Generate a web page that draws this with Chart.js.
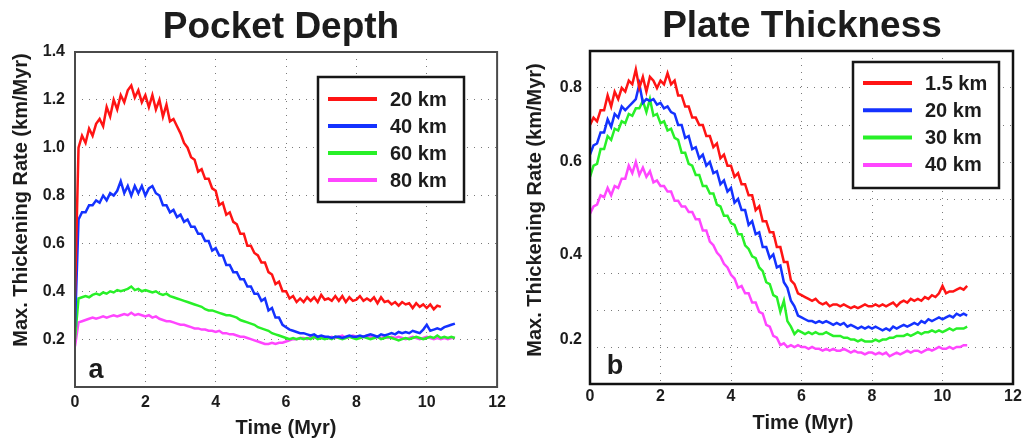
<!DOCTYPE html>
<html>
<head>
<meta charset="utf-8">
<script src="https://cdn.jsdelivr.net/npm/chart.js@4/dist/chart.umd.min.js"></script>
<style>
  body { margin: 0; background: #fff; }
  canvas { position: absolute; top: 0; }
  #depth { left: 0; }
  #plate { left: 512px; }
</style>
</head>
<body>
<canvas id="depth" width="512" height="441"></canvas>
<canvas id="plate" width="513" height="441"></canvas>
<script>
// time axis shared by both panels (Myr)
const timeMyr = [
  0,0.1,0.2,0.3,0.4,0.5,0.6,0.7,0.8,0.9,
  1,1.1,1.2,1.3,1.4,1.5,1.6,1.7,1.8,1.9,
  2,2.1,2.2,2.3,2.4,2.5,2.6,2.7,2.8,2.9,
  3,3.1,3.2,3.3,3.4,3.5,3.6,3.7,3.8,3.9,
  4,4.1,4.2,4.3,4.4,4.5,4.6,4.7,4.8,4.9,
  5,5.1,5.2,5.3,5.4,5.5,5.6,5.7,5.8,5.9,
  6,6.1,6.2,6.3,6.4,6.5,6.6,6.7,6.8,6.9,
  7,7.1,7.2,7.3,7.4,7.5,7.6,7.7,7.8,7.9,
  8,8.1,8.2,8.3,8.4,8.5,8.6,8.7,8.8,8.9,
  9,9.1,9.2,9.3,9.4,9.5,9.6,9.7,9.8,9.9,
  10,10.1,10.2,10.3,10.4,10.5,10.6,10.7,10.8
];

// panel a: pocket depth
const depthLabels = ['20 km', '40 km', '60 km', '80 km'];
const depth20 = [
  0.38,1.00,1.05,1.02,1.08,1.05,1.10,1.12,1.09,1.17,
  1.13,1.20,1.16,1.22,1.19,1.24,1.26,1.21,1.24,1.19,
  1.22,1.17,1.22,1.16,1.20,1.13,1.18,1.11,1.12,1.09,
  1.06,1.02,1.00,0.96,0.95,0.90,0.91,0.87,0.87,0.83,
  0.82,0.76,0.77,0.72,0.73,0.69,0.68,0.64,0.64,0.59,
  0.59,0.56,0.55,0.52,0.52,0.48,0.47,0.43,0.44,0.40,
  0.40,0.37,0.38,0.355,0.37,0.355,0.375,0.36,0.375,0.355,
  0.385,0.365,0.37,0.36,0.38,0.36,0.38,0.355,0.375,0.36,
  0.365,0.38,0.36,0.37,0.36,0.375,0.35,0.375,0.355,0.36,
  0.345,0.355,0.34,0.355,0.345,0.35,0.33,0.35,0.335,0.345,
  0.33,0.345,0.325,0.34,0.335,null,null,null,null
];
const depth40 = [
  0.25,0.70,0.73,0.73,0.76,0.76,0.78,0.77,0.80,0.78,
  0.81,0.80,0.82,0.86,0.81,0.84,0.80,0.84,0.81,0.84,
  0.80,0.83,0.84,0.81,0.80,0.76,0.76,0.73,0.74,0.71,
  0.72,0.69,0.70,0.67,0.67,0.64,0.64,0.61,0.61,0.57,
  0.58,0.55,0.55,0.51,0.51,0.48,0.48,0.45,0.45,0.42,
  0.42,0.39,0.39,0.36,0.37,0.32,0.33,0.29,0.29,0.26,
  0.25,0.24,0.235,0.23,0.225,0.225,0.22,0.215,0.22,0.21,
  0.215,0.21,0.21,0.205,0.21,0.21,0.205,0.21,0.215,0.21,
  0.21,0.215,0.21,0.215,0.22,0.215,0.21,0.22,0.215,0.22,
  0.225,0.22,0.23,0.225,0.23,0.225,0.235,0.23,0.225,0.24,
  0.26,0.235,0.24,0.245,0.24,0.25,0.255,0.26,0.265
];
const depth60 = [
  0.20,0.37,0.375,0.38,0.375,0.385,0.39,0.385,0.395,0.39,
  0.40,0.395,0.405,0.40,0.405,0.41,0.42,0.405,0.41,0.40,
  0.405,0.40,0.395,0.40,0.39,0.385,0.39,0.38,0.375,0.37,
  0.365,0.36,0.355,0.35,0.345,0.34,0.335,0.325,0.32,0.32,
  0.315,0.31,0.305,0.30,0.30,0.295,0.29,0.28,0.275,0.27,
  0.265,0.26,0.25,0.245,0.24,0.235,0.225,0.22,0.215,0.21,
  0.205,0.20,0.205,0.20,0.205,0.20,0.205,0.20,0.21,0.20,
  0.205,0.20,0.205,0.20,0.21,0.205,0.20,0.205,0.21,0.205,
  0.20,0.205,0.21,0.205,0.20,0.205,0.21,0.20,0.205,0.21,
  0.205,0.20,0.195,0.20,0.205,0.20,0.205,0.21,0.205,0.20,
  0.205,0.21,0.205,0.215,0.205,0.21,0.205,0.21,0.205
];
const depth80 = [
  0.17,0.27,0.275,0.28,0.285,0.29,0.285,0.29,0.295,0.29,
  0.295,0.30,0.295,0.30,0.305,0.30,0.31,0.30,0.305,0.30,
  0.295,0.30,0.29,0.295,0.285,0.28,0.275,0.275,0.27,0.265,
  0.26,0.26,0.255,0.25,0.245,0.245,0.24,0.24,0.235,0.235,
  0.23,0.235,0.225,0.225,0.22,0.22,0.215,0.21,0.21,0.205,
  0.20,0.195,0.19,0.185,0.18,0.18,0.185,0.18,0.185,0.185,
  0.19,0.195,0.20,0.20,0.205,0.205,0.20,0.21,0.205,0.21,
  0.205,0.21,0.205,0.21,0.205,0.21,0.215,0.205,0.21,0.215,
  0.21,0.205,0.21,0.215,0.21,0.205,0.21,0.205,0.21,0.205,
  0.21,0.205,0.21,0.205,0.20,0.205,0.21,0.205,0.20,0.205,
  0.21,0.205,0.20,0.205,0.20,0.205,0.20,0.205,0.205
];

// panel b: plate thickness
const plateLabels = ['1.5 km', '20 km', '30 km', '40 km'];
const plate15 = [
  0.70,0.72,0.71,0.74,0.74,0.78,0.75,0.79,0.77,0.80,
  0.79,0.82,0.81,0.85,0.80,0.83,0.79,0.83,0.82,0.80,
  0.82,0.81,0.84,0.81,0.82,0.78,0.78,0.75,0.75,0.72,
  0.72,0.70,0.70,0.67,0.67,0.64,0.65,0.61,0.62,0.59,
  0.59,0.56,0.57,0.54,0.54,0.51,0.51,0.47,0.48,0.44,
  0.44,0.41,0.41,0.37,0.37,0.33,0.33,0.28,0.27,0.245,
  0.24,0.235,0.23,0.225,0.23,0.22,0.215,0.22,0.21,0.215,
  0.215,0.21,0.215,0.21,0.205,0.21,0.205,0.21,0.215,0.21,
  0.21,0.215,0.21,0.215,0.21,0.215,0.22,0.21,0.22,0.225,
  0.22,0.23,0.225,0.23,0.225,0.235,0.23,0.24,0.235,0.245,
  0.265,0.245,0.25,0.25,0.255,0.26,0.255,0.265
];
const plate20 = [
  0.62,0.645,0.65,0.68,0.68,0.715,0.695,0.73,0.72,0.75,
  0.74,0.75,0.76,0.77,0.81,0.76,0.77,0.765,0.77,0.755,
  0.76,0.745,0.75,0.735,0.73,0.70,0.70,0.665,0.67,0.635,
  0.64,0.61,0.62,0.59,0.60,0.57,0.575,0.54,0.55,0.52,
  0.53,0.49,0.50,0.47,0.47,0.43,0.44,0.405,0.41,0.37,
  0.37,0.34,0.35,0.315,0.32,0.275,0.26,0.225,0.21,0.185,
  0.18,0.175,0.17,0.17,0.165,0.17,0.165,0.17,0.165,0.16,
  0.165,0.16,0.165,0.155,0.16,0.155,0.15,0.155,0.15,0.155,
  0.15,0.155,0.15,0.145,0.15,0.145,0.155,0.15,0.155,0.16,
  0.155,0.16,0.165,0.16,0.17,0.165,0.175,0.17,0.175,0.18,
  0.175,0.18,0.185,0.18,0.19,0.185,0.19,0.185
];
const plate30 = [
  0.56,0.59,0.595,0.635,0.635,0.67,0.66,0.69,0.685,0.71,
  0.705,0.73,0.725,0.745,0.745,0.765,0.735,0.77,0.725,0.73,
  0.705,0.71,0.685,0.69,0.665,0.66,0.625,0.625,0.595,0.59,
  0.565,0.565,0.535,0.535,0.515,0.515,0.485,0.48,0.455,0.455,
  0.435,0.43,0.405,0.405,0.375,0.365,0.345,0.34,0.315,0.305,
  0.275,0.27,0.24,0.235,0.195,0.225,0.17,0.155,0.135,0.145,
  0.14,0.135,0.14,0.135,0.14,0.135,0.135,0.14,0.135,0.13,
  0.13,0.13,0.125,0.125,0.12,0.12,0.115,0.12,0.115,0.115,
  0.115,0.12,0.115,0.12,0.12,0.125,0.125,0.13,0.13,0.13,
  0.135,0.13,0.135,0.14,0.135,0.14,0.14,0.145,0.14,0.145,
  0.14,0.145,0.15,0.145,0.15,0.15,0.15,0.155
];
const plate40 = [
  0.46,0.48,0.485,0.51,0.505,0.53,0.51,0.535,0.53,0.555,
  0.555,0.59,0.57,0.60,0.565,0.585,0.56,0.575,0.545,0.55,
  0.535,0.535,0.52,0.52,0.495,0.495,0.48,0.48,0.465,0.465,
  0.445,0.445,0.415,0.415,0.385,0.375,0.355,0.345,0.325,0.315,
  0.295,0.285,0.26,0.265,0.245,0.245,0.22,0.22,0.195,0.19,
  0.16,0.155,0.13,0.125,0.105,0.11,0.10,0.105,0.10,0.105,
  0.10,0.10,0.095,0.10,0.095,0.095,0.09,0.095,0.09,0.095,
  0.09,0.09,0.095,0.09,0.085,0.09,0.085,0.085,0.08,0.085,
  0.085,0.08,0.085,0.08,0.085,0.075,0.08,0.085,0.08,0.085,
  0.09,0.085,0.09,0.09,0.085,0.09,0.095,0.09,0.095,0.10,
  0.095,0.095,0.10,0.095,0.10,0.10,0.105,0.105
];

// panel b axis: dotted grid every 0.1, labels sit where the figure prints them
const plateGridVals = [0.1, 0.2, 0.3, 0.4, 0.5, 0.6, 0.7, 0.8];
const plateTickVals = [0.12, 0.35, 0.6, 0.8];
const plateTickText = ['0.2', '0.4', '0.6', '0.8'];

const lineColors = ['#ff1414', '#1432ff', '#28f028', '#ff46ff'];
const FONT = '"Liberation Sans", Arial, Helvetica, sans-serif';
const INK = '#1c1c1c';
const GRID = '#7a7a7a';

function points(series){
    return series.map((v, i) => ({x: timeMyr[i], y: v}));
}

function makeDatasets(labels, seriesList){
    return seriesList.map((s, i) => ({
        label: labels[i],
        data: points(s),
        borderColor: lineColors[i],
        backgroundColor: lineColors[i],
        borderWidth: 2.5,
        pointRadius: 0,
        tension: 0,
        spanGaps: false
    }));
}

// frame, titles, panel letter and boxed legend
const decor = {
    id: 'decor',
    afterDraw(chart, args, o){
        const ctx = chart.ctx;
        const a = chart.chartArea;
        ctx.save();
        ctx.strokeStyle = o.frameColor;
        ctx.lineWidth = o.frameWidth;
        ctx.strokeRect(a.left, a.top, a.right - a.left, a.bottom - a.top);

        ctx.fillStyle = INK;
        ctx.textAlign = 'center';
        ctx.textBaseline = 'alphabetic';
        ctx.font = 'bold 37px ' + FONT;
        ctx.fillText(o.title, o.titleX, o.titleBase);

        ctx.font = 'bold 20px ' + FONT;
        ctx.fillText('Time (Myr)', o.xTitleX, o.xTitleBase);

        ctx.save();
        ctx.translate(o.yTitleX, o.yTitleY);
        ctx.rotate(-Math.PI / 2);
        ctx.textBaseline = 'middle';
        ctx.fillText('Max. Thickening Rate (km/Myr)', 0, 0);
        ctx.restore();

        ctx.font = 'bold 27px ' + FONT;
        ctx.fillText(o.letter, o.letterX, o.letterBase);

        const L = o.legend;
        ctx.fillStyle = '#fff';
        ctx.fillRect(L.x, L.y, L.w, L.h);
        ctx.strokeStyle = '#161616';
        ctx.lineWidth = 2.5;
        ctx.strokeRect(L.x, L.y, L.w, L.h);
        ctx.textAlign = 'left';
        ctx.textBaseline = 'middle';
        ctx.font = 'bold 20px ' + FONT;
        chart.data.datasets.forEach((ds, i) => {
            const y = L.firstRow + i * L.rowGap;
            ctx.strokeStyle = ds.borderColor;
            ctx.lineWidth = 4;
            ctx.beginPath();
            ctx.moveTo(L.x + 10, y);
            ctx.lineTo(L.x + 59, y);
            ctx.stroke();
            ctx.fillStyle = INK;
            ctx.fillText(ds.label, L.x + 72, y + 1);
        });
        ctx.restore();
    }
};

const gridDots = {
    color: GRID,
    lineWidth: 1,
    drawTicks: false
};

function baseOptions(){
    return {
        responsive: false,
        animation: false,
        events: [],
        plugins: {
            legend: {display: false},
            tooltip: {enabled: false}
        }
    };
}

// panel a
const optsA = baseOptions();
optsA.layout = {padding: {left: 0, top: 52, right: 13, bottom: 0}};
optsA.scales = {
    x: {
        type: 'linear', min: 0, max: 12,
        border: {display: false, dash: [1, 6]},
        grid: gridDots,
        ticks: {stepSize: 2, padding: 6, color: INK, font: {family: FONT, size: 16, weight: 'bold'}},
        afterFit(s){ s.height = 54; }
    },
    y: {
        type: 'linear', min: 0, max: 1.4,
        border: {display: false, dash: [1, 6]},
        grid: gridDots,
        ticks: {
            stepSize: 0.2, padding: 10, color: INK,
            font: {family: FONT, size: 16, weight: 'bold'},
            callback: v => (Math.abs(v) < 1e-9 ? '' : v.toFixed(1))
        },
        afterFit(s){ s.width = 75; }
    }
};
optsA.plugins.decor = {
    frameColor: '#4a4a4a', frameWidth: 2,
    title: 'Pocket Depth', titleX: 281, titleBase: 38,
    xTitleX: 286, xTitleBase: 434,
    yTitleX: 21, yTitleY: 200,
    letter: 'a', letterX: 96, letterBase: 378,
    legend: {x: 318, y: 77, w: 146, h: 125, firstRow: 99, rowGap: 27}
};

new Chart(document.getElementById('depth'), {
    type: 'line',
    data: {datasets: makeDatasets(depthLabels, [depth20, depth40, depth60, depth80])},
    options: optsA,
    plugins: [decor]
});

// panel b
const optsB = baseOptions();
optsB.layout = {padding: {left: 0, top: 51, right: 12, bottom: 0}};
optsB.scales = {
    x: {
        type: 'linear', min: 0, max: 12,
        border: {display: false, dash: [1, 6]},
        grid: gridDots,
        ticks: {stepSize: 2, padding: 3, color: INK, font: {family: FONT, size: 16, weight: 'bold'}},
        afterFit(s){ s.height = 57; }
    },
    y: {
        type: 'linear', min: 0, max: 0.9,
        border: {display: false, dash: [1, 6]},
        grid: {
            drawTicks: false,
            lineWidth: 1,
            color: c => (c.tick && plateGridVals.some(g => Math.abs(g - c.tick.value) < 1e-6) ? GRID : 'rgba(0,0,0,0)')
        },
        afterBuildTicks(s){
            const vals = [...new Set(plateGridVals.concat(plateTickVals))].sort((p, q) => p - q);
            s.ticks = vals.map(v => ({value: v}));
        },
        ticks: {
            autoSkip: false, padding: 8, color: INK,
            font: {family: FONT, size: 16, weight: 'bold'},
            callback: v => {
                const k = plateTickVals.findIndex(t => Math.abs(t - v) < 1e-6);
                return k < 0 ? '' : plateTickText[k];
            }
        },
        afterFit(s){ s.width = 78; }
    }
};
optsB.plugins.decor = {
    frameColor: '#111111', frameWidth: 2.5,
    title: 'Plate Thickness', titleX: 290, titleBase: 37,
    xTitleX: 291, xTitleBase: 429,
    yTitleX: 23, yTitleY: 210,
    letter: 'b', letterX: 103, letterBase: 374,
    legend: {x: 341, y: 62, w: 146, h: 126, firstRow: 83, rowGap: 27.3}
};

new Chart(document.getElementById('plate'), {
    type: 'line',
    data: {datasets: makeDatasets(plateLabels, [plate15, plate20, plate30, plate40])},
    options: optsB,
    plugins: [decor]
});
</script>
</body>
</html>
